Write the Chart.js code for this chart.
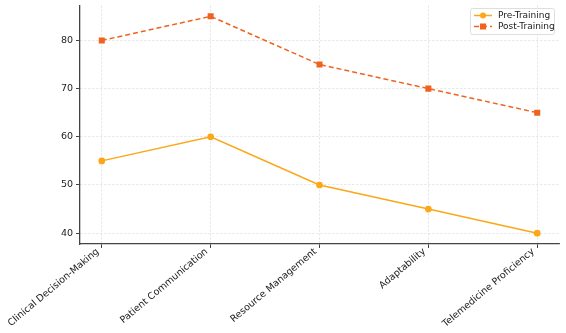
<!DOCTYPE html>
<html>
<head>
<meta charset="utf-8">
<script src="https://cdn.jsdelivr.net/npm/chart.js@4.4.0/dist/chart.umd.min.js"></script>
<style>
  html, body { margin: 0; padding: 0; background: #fff; }
  #wrap { width: 566px; height: 333px; }
</style>
</head>
<body>
<div id="wrap"><canvas id="c" width="566" height="333"></canvas></div>
<script>
// data
const categories = ['Clinical Decision-Making', 'Patient Communication', 'Resource Management', 'Adaptability', 'Telemedicine Proficiency'];
const preTraining = [55, 60, 50, 45, 40];
const postTraining = [80, 85, 75, 70, 65];
const yTicks = [40, 50, 60, 70, 80];

const preColor = '#FBA718';
const postColor = '#F0621F';
const font = { family: 'DejaVu Sans', size: 9.5 };

function toPoints(vals) {
  return vals.map((v, i) => ({ x: i, y: v }));
}

// legend drawn inside the plot, like matplotlib's upper right one
const legendBox = {
  id: 'legendBox',
  afterDraw(chart) {
    const ctx = chart.ctx;
    const area = chart.chartArea;
    const sets = chart.data.datasets;
    const w = 84, h = 26;
    const x0 = area.right - w - 5, y0 = 8;
    ctx.save();
    ctx.fillStyle = 'rgba(255,255,255,0.85)';
    ctx.strokeStyle = '#d6d6d6';
    ctx.lineWidth = 0.8;
    ctx.beginPath();
    ctx.roundRect(x0 + 0.5, y0 + 0.5, w, h, 2);
    ctx.fill();
    ctx.stroke();
    sets.forEach((ds, i) => {
      const y = y0 + 7.5 + i * 11;
      ctx.strokeStyle = ds.borderColor;
      ctx.lineWidth = 1.5;
      ctx.setLineDash(ds.borderDash || []);
      ctx.beginPath();
      ctx.moveTo(x0 + 4, y);
      ctx.lineTo(x0 + 22, y);
      ctx.stroke();
      ctx.setLineDash([]);
      ctx.fillStyle = ds.pointBackgroundColor;
      if (ds.pointStyle === 'rect') {
        ctx.fillRect(x0 + 13 - 3, y - 3, 6, 6);
      } else {
        ctx.beginPath();
        ctx.arc(x0 + 13, y, 3, 0, Math.PI * 2);
        ctx.fill();
      }
      ctx.fillStyle = '#222';
      ctx.font = '9px "DejaVu Sans"';
      ctx.textBaseline = 'middle';
      ctx.fillText(ds.label, x0 + 28, y + 0.5);
    });
    ctx.restore();
  }
};

new Chart(document.getElementById('c'), {
  type: 'line',
  data: {
    datasets: [
      {
        label: 'Pre-Training',
        data: toPoints(preTraining),
        borderColor: preColor,
        backgroundColor: preColor,
        pointBackgroundColor: preColor,
        pointBorderColor: preColor,
        borderWidth: 1.5,
        pointRadius: 2.6,
        pointStyle: 'circle'
      },
      {
        label: 'Post-Training',
        data: toPoints(postTraining),
        borderColor: postColor,
        backgroundColor: postColor,
        pointBackgroundColor: postColor,
        pointBorderColor: postColor,
        borderWidth: 1.5,
        borderDash: [5, 3],
        pointRadius: 3.2,
        pointStyle: 'rect'
      }
    ]
  },
  options: {
    responsive: false,
    animation: false,
    layout: { padding: { top: 5, right: 7, left: 0, bottom: 0 } },
    plugins: { legend: { display: false }, tooltip: { enabled: false } },
    scales: {
      x: {
        type: 'linear',
        min: -0.2,
        max: 4.2,
        afterFit(s) { s.height = 89; s.paddingLeft = 0; s.paddingRight = 0; },
        afterBuildTicks(s) { s.ticks = categories.map((c, i) => ({ value: i })); },
        ticks: {
          callback: v => categories[v],
          autoSkip: false,
          minRotation: 40,
          maxRotation: 40,
          padding: -2,
          labelOffset: -4,
          color: '#222',
          font: font
        },
        grid: { color: '#dcdcdc', lineWidth: 0.8, tickColor: '#444', tickLength: 4, tickWidth: 1 },
        border: { color: '#444', width: 1.3, dash: [2, 2] }
      },
      y: {
        min: 37.75,
        max: 87.25,
        afterFit(s) { s.width = 80; s.paddingTop = 0; s.paddingBottom = 0; },
        afterBuildTicks(s) { s.ticks = yTicks.map(v => ({ value: v })); },
        ticks: { color: '#222', font: font, padding: 3 },
        grid: { color: '#dcdcdc', lineWidth: 0.8, tickColor: '#444', tickLength: 4, tickWidth: 1 },
        border: { color: '#444', width: 1.3, dash: [2, 2] }
      }
    }
  },
  plugins: [legendBox]
});
</script>
</body>
</html>
